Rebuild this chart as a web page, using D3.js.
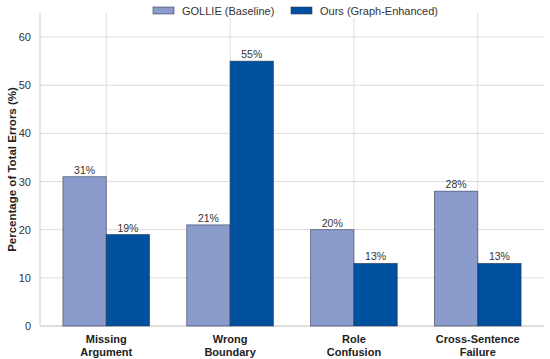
<!DOCTYPE html>
<meta charset="utf-8">
<style>
body { margin: 0; background: #fff; }
svg { font-family: "Liberation Sans", Arial, sans-serif; }
.grid line { stroke: #dcdcdc; stroke-width: 1px; }
.axis path, .axis line { display: none; }
.axis text { fill: #333; font-size: 11px; }
</style>
<svg width="550" height="359"></svg>
<script src="https://cdn.jsdelivr.net/npm/d3@7"></script>
<script>
// error categories, two lines per tick label
var categories = ["Missing Argument", "Wrong Boundary", "Role Confusion", "Cross-Sentence Failure"];
var labelLines = [["Missing", "Argument"], ["Wrong", "Boundary"], ["Role", "Confusion"], ["Cross-Sentence", "Failure"]];
var seriesNames = ["GOLLIE (Baseline)", "Ours (Graph-Enhanced)"];
var gollie = [31, 21, 20, 28];
var ours = [19, 55, 13, 13];
var yTicks = [0, 10, 20, 30, 40, 50, 60];
var colors = ["#8a9bcc", "#0050a0"];

var svg = d3.select("svg"),
    margin = {top: 13, right: 6, bottom: 33, left: 40},
    width = +svg.attr("width") - margin.left - margin.right,
    height = +svg.attr("height") - margin.top - margin.bottom,
    g = svg.append("g").attr("transform", "translate(" + margin.left + "," + margin.top + ")");

// linear x like matplotlib: bars at i -/+ 0.35, margins 5%
var barW = 0.35;
var x = d3.scaleLinear()
    .domain([-barW - 0.185, categories.length - 1 + barW + 0.185])
    .range([0, width]);

var y = d3.scaleLinear()
    .domain([0, 65])
    .range([height, 0]);

// gridlines
g.append("g").attr("class", "grid")
  .selectAll("line.h").data(yTicks).enter().append("line")
    .attr("x1", 0).attr("x2", width)
    .attr("y1", function(d) { return y(d); })
    .attr("y2", function(d) { return y(d); });

g.append("g").attr("class", "grid")
  .selectAll("line.v").data(categories).enter().append("line")
    .attr("x1", function(d, i) { return x(i); })
    .attr("x2", function(d, i) { return x(i); })
    .attr("y1", 0).attr("y2", height);

// spines
g.append("line").attr("x1", 0).attr("x2", 0).attr("y1", 0).attr("y2", height)
  .attr("stroke", "#cfcfcf");
g.append("line").attr("x1", 0).attr("x2", width).attr("y1", height).attr("y2", height)
  .attr("stroke", "#cfcfcf");

// bars
var series = [gollie, ours];
series.forEach(function(vals, s) {
  var off = s == 0 ? -barW : 0;
  g.append("g").selectAll("rect").data(vals).enter().append("rect")
    .attr("x", function(d, i) { return x(i + off); })
    .attr("width", x(barW) - x(0))
    .attr("y", function(d) { return y(d); })
    .attr("height", function(d) { return y(0) - y(d); })
    .attr("fill", colors[s])
    .attr("stroke", "#2b3550")
    .attr("stroke-opacity", 0.7)
    .attr("stroke-width", 0.8);

  g.append("g").selectAll("text").data(vals).enter().append("text")
    .attr("x", function(d, i) { return x(i + off + barW / 2); })
    .attr("y", function(d) { return y(d) - 3; })
    .attr("text-anchor", "middle")
    .attr("font-size", "10.5px")
    .attr("fill", "#333")
    .text(function(d) { return d + "%"; });
});

// y axis
g.append("g")
  .attr("class", "axis")
  .call(d3.axisLeft(y).tickValues(yTicks).tickSize(0).tickPadding(9));

// x labels, bold, two lines
var xl = g.append("g").selectAll("text").data(labelLines).enter().append("text")
    .attr("x", function(d, i) { return x(i); })
    .attr("y", height + 17)
    .attr("text-anchor", "middle")
    .attr("font-size", "11px")
    .attr("font-weight", "bold")
    .attr("fill", "#222");
xl.selectAll("tspan").data(function(d) { return d; }).enter().append("tspan")
    .attr("x", function() { return d3.select(this.parentNode).attr("x"); })
    .attr("dy", function(d, i) { return i == 0 ? 0 : 12.5; })
    .text(function(d) { return d; });

// y label
svg.append("text")
  .attr("transform", "translate(16," + (margin.top + height / 2) + ") rotate(-90)")
  .attr("text-anchor", "middle")
  .attr("font-size", "11.5px")
  .attr("font-weight", "bold")
  .attr("fill", "#222")
  .text("Percentage of Total Errors (%)");

// legend
var legend = svg.append("g");
legend.append("rect")
  .attr("x", 146).attr("y", 2).attr("width", 262).attr("height", 16)
  .attr("fill", "#fff");
var legX = [153, 291];
seriesNames.forEach(function(name, s) {
  legend.append("rect")
    .attr("x", legX[s]).attr("y", 7).attr("width", 21).attr("height", 7)
    .attr("fill", colors[s])
    .attr("stroke", "#2b3550").attr("stroke-opacity", 0.7).attr("stroke-width", 0.8);
  legend.append("text")
    .attr("x", legX[s] + 29).attr("y", 15)
    .attr("font-size", "11px")
    .attr("fill", "#333")
    .text(name);
});
</script>
